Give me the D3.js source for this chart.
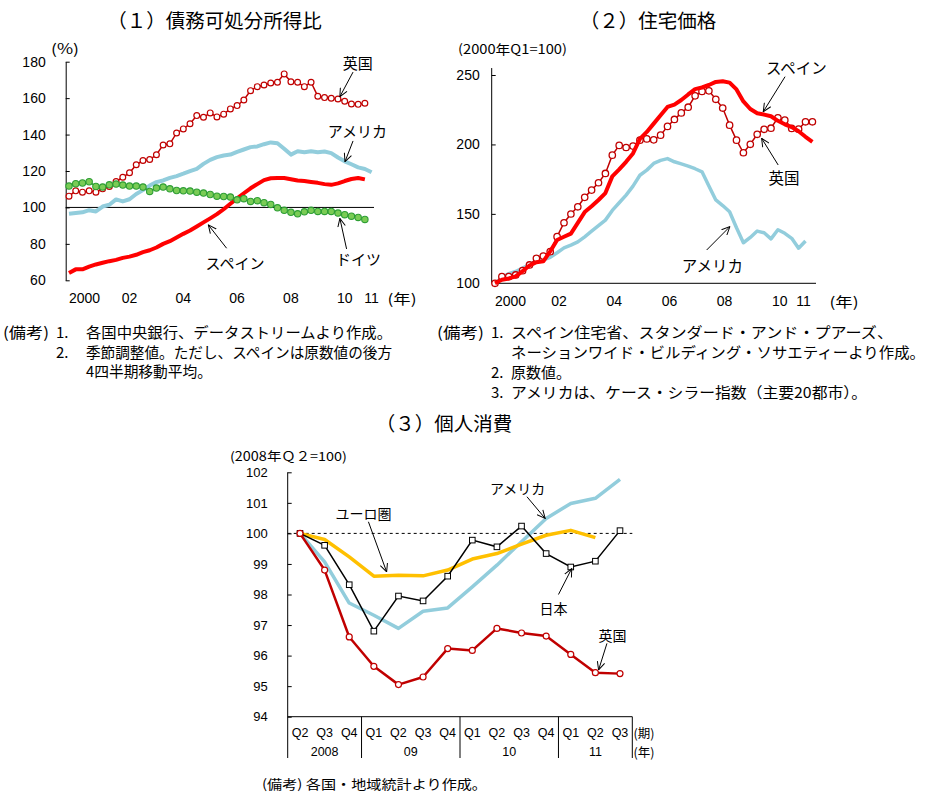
<!DOCTYPE html>
<html><head><meta charset="utf-8">
<script src="https://cdn.jsdelivr.net/npm/d3@7"></script>
<style>body{margin:0;background:#fff}svg{display:block}</style>
</head><body>
<svg id="c" width="934" height="799"></svg>
<script>
// ---------------- DATA ----------------
// (1) Debt to disposable income ratio, quarterly from 2000Q1
const debtStartYear = 2000;
const ukDebt = [106.2,109.1,108.4,109.1,108.4,110.2,111.5,114.2,116.6,119,
  123.4,125.8,126.3,128.9,134.3,134.9,140.9,143.1,145.9,150.4,
  149.5,151.9,149.7,151.2,154.1,155.9,159,164.1,166.3,167.2,
  168.3,168.7,173.3,169,168.7,166.3,168.7,161,160.3,159.9,
  159.5,158.3,156.8,156.6,157.2];
const usDebt = [96.5,96.9,97.3,98.5,97.8,100.5,101.5,104.4,103.3,104.5,
  107.4,109.5,112,113.9,114.8,116.2,117.2,118.5,119.9,121.2,
  123.9,126.1,127.6,128.5,129,130.5,131.8,133.1,133.5,134.7,
  135.7,135.2,132.2,129,130.8,130.3,130.8,130.3,130.7,129.8,
  127.4,125.3,123.7,122,121.1,119.3];
const spainDebt = [64,66,66,67.5,68.7,69.6,70.5,71.2,72.3,73,
  74,75.5,76.5,78,80,81.5,83.5,85.5,87.3,89.5,
  91.8,94,96.3,99,102,105,107.8,110.5,112.8,115,
  116,116.2,116.2,115.5,114.8,114.5,114,113.5,112.8,112.4,
  113.2,114.5,115.6,116.2,115.4];
const germanyDebt = [111.7,113,113.4,114.1,111.5,111.2,112.4,112.8,112.3,111.7,
  111.7,111.2,108.8,110.6,111.2,110.2,109.3,109.1,109,108.4,
  107.9,107.1,106.2,106,105.7,104.2,104.8,103.3,103.7,102.6,
  101.6,99.8,98.4,97.3,96.5,97.6,98.4,97.8,97.8,97.8,
  96.9,96,95.2,94.5,93.4];
const debtTicks = [60,80,100,120,140,160,180];
const yearTicks = [2000,2002,2004,2006,2008,2010,2011];
const yearTickLabels = ["2000","02","04","06","08","10","11"];

// (2) House prices, 2000Q1 = 100
const ukHouse = [100,104.8,104.8,106,109.1,113.2,118,119.6,122.8,133.6,
  143.6,149.9,155.1,161.9,167.1,172.4,179.1,192.3,199.3,197.8,
  198.8,203.1,204,203.3,206.7,213,218,222.7,226.8,235,
  238.2,238.6,232.5,226.2,213.9,203.1,194,200.1,207.3,210.9,
  211.7,219.2,217.5,211.5,211,216.3,216.3];
const spainHouse = [100,102.5,103.5,105,108.8,112.8,115.2,115.8,123,131.2,
  133.5,135.8,143.5,151.3,155.5,160,165,177,182,187.5,
  193.5,204,209,215,221,227,228.7,232,236,239.8,
  241,242.8,245,245.5,244.5,239.6,231,225.5,222.5,221.5,
  220.3,217,214.5,212.5,209.5,205.5,201.9];
const usHouse = [100,104,107,108.5,111,113.5,115.5,116.8,118.7,122,
  125.5,127.5,129.8,133.5,137.5,141.5,145.5,152.5,158,163.5,
  170,177.8,181.5,186.3,188.5,189.8,187.5,186,184.4,182.5,
  180.3,170,160,156,151.5,140,129.2,133,137.6,136.4,
  132,138.6,136,132.4,125.3,130.5];
const houseTicks = [100,150,200,250];

// (3) Private consumption, 2008Q2 = 100
const quarterLabels = ["Q2","Q3","Q4","Q1","Q2","Q3","Q4","Q1","Q2","Q3","Q4","Q1","Q2","Q3"];
const yearGroupLabels = ["2008","09","10","11"];
const yearGroupSizes = [3,4,4,3];
const usCons = [100,99.07,97.72,97.32,96.89,97.45,97.56,98.25,98.96,99.73,100.49,100.98,101.15,101.77];
const euroCons = [100,99.8,99.23,98.6,98.63,98.61,98.8,99.16,99.34,99.65,99.94,100.1,99.86];
const japanCons = [100,99.61,98.32,96.8,97.95,97.79,98.6,99.78,99.56,100.24,99.34,98.9,99.09,100.09];
const ukCons = [100,98.8,96.61,95.65,95.05,95.3,96.23,96.17,96.89,96.74,96.64,96.04,95.44,95.41];
const consTicks = [94,95,96,97,98,99,100,101,102];

// ---------------- DRAWING ----------------
const JP = "'Noto Sans CJK JP','Noto Sans',sans-serif";
const NUM = "'Liberation Sans',Arial,sans-serif";
const C_UK = "#c00000", C_ES = "#ff0000", C_US = "#92cddc", C_DE_F = "#7acc55", C_DE_S = "#2e9e35", C_EU = "#ffc000";

const svg = d3.select("#c");
svg.append("rect").attr("width",934).attr("height",799).attr("fill","#fff");
svg.append("defs").append("marker")
  .attr("id","arr").attr("viewBox","0 0 10 10").attr("refX",9.5).attr("refY",5)
  .attr("markerWidth",9).attr("markerHeight",9).attr("orient","auto").attr("markerUnits","userSpaceOnUse")
  .append("path").attr("d","M0.5,0.8 L9.5,5 L0.5,9.2").attr("fill","none").attr("stroke","#000").attr("stroke-width",1.1);

function txt(g, x, y, s, size, opts = {}) {
  const t = g.append("text").attr("x", x).attr("y", y).text(s)
    .attr("font-family", opts.family || JP).attr("font-size", size)
    .attr("fill", "#000").attr("dominant-baseline", "central")
    .attr("text-anchor", opts.anchor || "middle");
  if (opts.len) t.attr("textLength", opts.len).attr("lengthAdjust", "spacingAndGlyphs");
  return t;
}
function arrow(g, x1, y1, x2, y2) {
  g.append("line").attr("x1",x1).attr("y1",y1).attr("x2",x2).attr("y2",y2)
    .attr("stroke","#000").attr("stroke-width",1).attr("marker-end","url(#arr)");
}
function styleAxis(sel, size, family) {
  sel.selectAll("text").attr("font-size", size).attr("font-family", family).attr("fill","#000");
  sel.selectAll("line").attr("stroke","#000");
  sel.select(".domain").attr("stroke","#000");
}

// ===== Chart 1 =====
{
  const g = svg.append("g");
  const qYear = i => debtStartYear + i / 4;
  const x = d3.scaleLinear().domain([2000, 2011.25]).range([69, 371.6]);
  const y = d3.scaleLinear().domain([60, 180]).range([280.3, 61.7]);
  const axisX = 65.7;

  txt(g, 214.5, 19, "（１）債務可処分所得比", 19.5);
  txt(g, 65, 48, "(%)", 14, {len: 28});

  const ax = g.append("g").attr("transform", `translate(${axisX},0)`)
    .call(d3.axisLeft(y).tickValues(debtTicks).tickSizeInner(-4).tickSizeOuter(0).tickPadding(20));
  styleAxis(ax, 14, NUM);

  g.append("line").attr("x1", axisX).attr("x2", 374).attr("y1", y(100)).attr("y2", y(100))
    .attr("stroke", "#000").attr("stroke-width", 1);

  yearTicks.forEach((yr, k) => {
    if (k === 0) txt(g, x(yr), 298, yearTickLabels[k], 14, {family: NUM, anchor: "start"});
    else txt(g, x(yr + 0.25), 298, yearTickLabels[k], 14, {family: NUM});
  });
  txt(g, 402, 298, "(年)", 14, {len: 29});

  const line = d3.line().x((d, i) => x(qYear(i))).y(d => y(d));
  g.append("path").datum(usDebt).attr("d", line).attr("fill","none").attr("stroke",C_US).attr("stroke-width",4).attr("stroke-linejoin","round");
  g.append("path").datum(spainDebt).attr("d", line).attr("fill","none").attr("stroke",C_ES).attr("stroke-width",4).attr("stroke-linejoin","round");
  g.append("path").datum(ukDebt).attr("d", line).attr("fill","none").attr("stroke",C_UK).attr("stroke-width",1.5);
  g.selectAll(".ukc").data(ukDebt).join("circle").attr("cx",(d,i)=>x(qYear(i))).attr("cy",d=>y(d)).attr("r",2.9)
    .attr("fill","#fff").attr("stroke",C_UK).attr("stroke-width",1.2);
  g.append("path").datum(germanyDebt).attr("d", line).attr("fill","none").attr("stroke",C_DE_S).attr("stroke-width",1.5);
  g.selectAll(".dec").data(germanyDebt).join("circle").attr("cx",(d,i)=>x(qYear(i))).attr("cy",d=>y(d)).attr("r",3.2)
    .attr("fill",C_DE_F).attr("stroke",C_DE_S).attr("stroke-width",1.1);

  // annotations (data coordinates)
  txt(g, x(2010.74), y(179.3), "英国", 15);
  arrow(g, x(2010.56), y(174.3), x(2010.07), y(160.8));
  txt(g, x(2010.72), y(142), "アメリカ", 15);
  arrow(g, x(2010.56), y(136.5), x(2010.26), y(125.1));
  txt(g, x(2006.17), y(70), "スペイン", 15);
  arrow(g, x(2005.86), y(77.6), x(2005.18), y(90.4));
  txt(g, x(2010.76), y(71.7), "ドイツ", 15);
  arrow(g, x(2010.32), y(77.2), x(2010.07), y(94));

  // notes
  txt(g, 3, 331.5, "(備考)", 15, {anchor:"start", len: 46});
  txt(g, 56, 331.5, "1.", 15, {anchor:"start"});
  txt(g, 86, 331.5, "各国中央銀行、データストリームより作成。", 15, {anchor:"start", len: 306});
  txt(g, 56, 351.5, "2.", 15, {anchor:"start"});
  txt(g, 86, 351.5, "季節調整値。ただし、スペインは原数値の後方", 15, {anchor:"start", len: 306});
  txt(g, 86, 370.5, "4四半期移動平均。", 15, {anchor:"start", len: 126});
}

// ===== Chart 2 =====
{
  const g = svg.append("g");
  const qYear = i => 2000 + i / 4;
  const x = d3.scaleLinear().domain([2000, 2011.5]).range([495, 812.4]);
  const y = d3.scaleLinear().domain([100, 250]).range([283.3, 75]);
  const axisX = 491.7;

  txt(g, 648, 19, "（２）住宅価格", 19.5);
  txt(g, 458, 48, "(2000年Q1=100)", 13, {anchor: "start", len: 109});

  const ax = g.append("g").attr("transform", `translate(${axisX},0)`)
    .call(d3.axisLeft(y).tickValues(houseTicks).tickSizeInner(-4).tickSizeOuter(0).tickPadding(12));
  styleAxis(ax, 14, NUM);
  ax.select(".domain").remove();
  g.append("line").attr("x1", axisX).attr("x2", axisX).attr("y1", y(255)).attr("y2", y(100)).attr("stroke","#000");
  g.append("line").attr("x1", axisX).attr("x2", 816).attr("y1", y(100)).attr("y2", y(100)).attr("stroke","#333").attr("stroke-width",1.3);

  yearTicks.forEach((yr, k) => {
    if (k === 0) txt(g, x(yr), 301, yearTickLabels[k], 14, {family: NUM, anchor: "start"});
    else if (k === yearTicks.length - 1) txt(g, x(yr + 0.18), 301, yearTickLabels[k], 14, {family: NUM});
    else txt(g, x(yr + 0.32), 301, yearTickLabels[k], 14, {family: NUM});
  });
  txt(g, 844, 301, "(年)", 14, {len: 29});

  const line = d3.line().x((d, i) => x(qYear(i))).y(d => y(d));
  g.append("path").datum(usHouse).attr("d", line).attr("fill","none").attr("stroke",C_US).attr("stroke-width",3.5).attr("stroke-linejoin","round");
  g.append("path").datum(ukHouse).attr("d", line).attr("fill","none").attr("stroke",C_UK).attr("stroke-width",1.5);
  g.selectAll(".ukc").data(ukHouse).join("circle").attr("cx",(d,i)=>x(qYear(i))).attr("cy",d=>y(d)).attr("r",3.2)
    .attr("fill","#fff").attr("stroke",C_UK).attr("stroke-width",1.3);
  g.append("path").datum(spainHouse).attr("d", line).attr("fill","none").attr("stroke",C_ES).attr("stroke-width",4).attr("stroke-linejoin","round");

  txt(g, x(2010.92), y(255.8), "スペイン", 15.5);
  arrow(g, x(2010.51), y(248.8), x(2009.72), y(223.6));
  txt(g, x(2010.47), y(176.5), "英国", 15.5);
  arrow(g, x(2010.26), y(185.2), x(2009.66), y(204.4));
  txt(g, x(2007.88), y(113.2), "アメリカ", 15.5);
  arrow(g, x(2007.67), y(124), x(2008.51), y(140.8));

  txt(g, 437, 331, "(備考)", 15, {anchor:"start", len: 47});
  txt(g, 491, 331, "1.", 15, {anchor:"start"});
  txt(g, 511, 331, "スペイン住宅省、スタンダード・アンド・プアーズ、", 15, {anchor:"start", len: 382});
  txt(g, 511, 351.5, "ネーションワイド・ビルディング・ソサエティーより作成。", 15, {anchor:"start", len: 414});
  txt(g, 491, 371.5, "2.", 15, {anchor:"start"});
  txt(g, 511, 371.5, "原数値。", 15, {anchor:"start", len: 60});
  txt(g, 491, 391.5, "3.", 15, {anchor:"start"});
  txt(g, 511, 391.5, "アメリカは、ケース・シラー指数（主要20都市）。", 15, {anchor:"start", len: 356});
}

// ===== Chart 3 =====
{
  const g = svg.append("g");
  const x = d3.scaleBand().domain(d3.range(quarterLabels.length)).range([287.7, 632.3]).padding(0);
  const bw = x.bandwidth();
  const cx = i => x(0) + bw / 2 + i * bw;   // continuous index -> pixel (for annotations)
  const y = d3.scaleLinear().domain([94, 102]).range([716.7, 472.3]);
  const axisX = 287.7, bottom = 716.7, sepBottom = 758;

  txt(g, 444, 422, "（３）個人消費", 19.5);
  txt(g, 230, 455, "(2008年Ｑ２=100)", 12.5, {anchor: "start", len: 117});

  const ax = g.append("g").attr("transform", `translate(${axisX},0)`)
    .call(d3.axisLeft(y).tickValues(consTicks).tickSizeInner(-4).tickSizeOuter(0).tickPadding(20));
  styleAxis(ax, 13, NUM);
  ax.select(".domain").remove();
  g.append("line").attr("x1", axisX).attr("x2", axisX).attr("y1", y(102)).attr("y2", sepBottom).attr("stroke","#000");
  g.append("line").attr("x1", axisX).attr("x2", x.range()[1]).attr("y1", bottom).attr("y2", bottom).attr("stroke","#000");

  // group separators
  let acc = 0;
  yearGroupSizes.forEach((n, k) => {
    const x0 = x(acc), x1 = acc + n < quarterLabels.length ? x(acc + n) : x.range()[1];
    g.append("line").attr("x1", x1).attr("x2", x1).attr("y1", bottom).attr("y2", sepBottom).attr("stroke","#000");
    txt(g, (x0 + x1) / 2, 751.5, yearGroupLabels[k], 12.5, {family: NUM});
    acc += n;
  });
  quarterLabels.forEach((q, i) => txt(g, x(i) + bw / 2, 732.5, q, 12.5, {family: NUM}));
  txt(g, 644, 732.5, "(期)", 12.5);
  txt(g, 644, 751.5, "(年)", 12.5);

  // 100 reference
  g.append("line").attr("x1", axisX).attr("x2", x.range()[1]).attr("y1", y(100)).attr("y2", y(100))
    .attr("stroke","#000").attr("stroke-width",1).attr("stroke-dasharray","3,3");

  const line = d3.line().x((d, i) => x(i) + bw / 2).y(d => y(d));
  g.append("path").datum(usCons).attr("d", line).attr("fill","none").attr("stroke",C_US).attr("stroke-width",3.5).attr("stroke-linejoin","round");
  g.append("path").datum(euroCons).attr("d", line).attr("fill","none").attr("stroke",C_EU).attr("stroke-width",3.5).attr("stroke-linejoin","round");
  g.append("path").datum(japanCons).attr("d", line).attr("fill","none").attr("stroke","#000").attr("stroke-width",1.5);
  g.selectAll(".jps").data(japanCons).join("rect")
    .attr("x",(d,i)=>x(i)+bw/2-2.8).attr("y",d=>y(d)-2.8).attr("width",5.6).attr("height",5.6)
    .attr("fill","#fff").attr("stroke","#000").attr("stroke-width",1);
  g.append("path").datum(ukCons).attr("d", line).attr("fill","none").attr("stroke",C_UK).attr("stroke-width",2.5).attr("stroke-linejoin","round");
  g.selectAll(".ukc").data(ukCons).join("circle").attr("cx",(d,i)=>x(i)+bw/2).attr("cy",d=>y(d)).attr("r",3)
    .attr("fill","#fff").attr("stroke",C_UK).attr("stroke-width",1.2);

  txt(g, cx(8.84), y(101.48), "アメリカ", 14);
  arrow(g, cx(9.22), y(101.2), cx(9.96), y(100.49));
  txt(g, cx(2.58), y(100.66), "ユーロ圏", 14);
  arrow(g, cx(2.78), y(100.38), cx(3.52), y(98.74));
  txt(g, cx(10.3), y(97.55), "日本", 14);
  arrow(g, cx(10.5), y(98), cx(11.04), y(98.85));
  txt(g, cx(12.7), y(96.67), "英国", 14);
  arrow(g, cx(12.47), y(96.4), cx(12.13), y(95.53));

  txt(g, 262, 783, "(備考) 各国・地域統計より作成。", 13, {anchor: "start", len: 225});
}
</script>
</body></html>
